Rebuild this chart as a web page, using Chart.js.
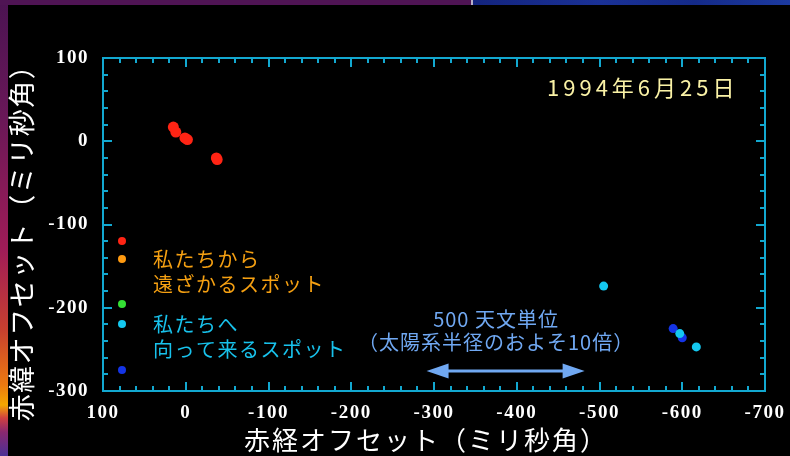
<!DOCTYPE html>
<html>
<head>
<meta charset="utf-8">
<script src="https://cdn.jsdelivr.net/npm/chart.js@4.4.1/dist/chart.umd.min.js"></script>
<style>
  html, body { margin: 0; padding: 0; background: #000; }
  #wrap { position: relative; width: 790px; height: 456px; overflow: hidden; background: #000; }
  #edgeLeft {
    position: absolute; left: 0; top: 0; width: 8px; height: 456px;
    background: linear-gradient(to bottom, #4b1352 0px, #6a1858 120px, #a01c58 250px, #c8402f 330px,
      #ec7a10 385px, #f5a800 405px, #d04040 418px, #8a2870 432px, #4a3095 456px);
  }
  #edgeTop { position: absolute; left: 0; top: 0; width: 471px; height: 5px; background: #4f1454; }
  #edgeSep { position: absolute; left: 471px; top: 0; width: 2px; height: 5px; background: #b8b0c8; }
  #edgeTopRight {
    position: absolute; left: 473px; top: 0; width: 317px; height: 5px;
    background: linear-gradient(to right, #13247e, #1a3196 40%, #142a88 70%, #1c3aa0);
  }
  canvas { position: absolute; left: 0; top: 0; }
</style>
</head>
<body>
<div id="wrap">
  <div id="edgeLeft"></div>
  <div id="edgeTop"></div>
  <div id="edgeSep"></div>
  <div id="edgeTopRight"></div>
  <canvas id="c" width="790" height="456"></canvas>
</div>
<script>
// Maser spot offsets (milli-arcseconds): right ascension (x) and declination (y)
const redX  = [15, 12, 1, -2, -37, -38];
const redY  = [17, 11, 4, 2, -20, -22];
const cyanX = [-505, -597, -617];
const cyanY = [-174, -231, -247];
const blueX = [-589, -600];
const blueY = [-225, -236];

// Axis ranges and tick steps
const xRange = [-700, 100];
const yRange = [-300, 100];
const minorStep = 20;
const majorStep = 100;

// Text
const xTitle = '赤経オフセット（ミリ秒角）';
const yTitle = '赤緯オフセット（ミリ秒角）';
const dateLabel = '1994年6月25日';
const recedingLines = ['私たちから', '遠ざかるスポット'];
const approachingLines = ['私たちへ', '向って来るスポット'];
const scaleBarLines = ['500 天文単位', '（太陽系半径のおよそ10倍）'];

// Velocity colour key, from receding (red) to approaching (blue)
const keyColors = ['#ff2414', '#ff9a10', '#34e034', '#14c8f0', '#1434e6'];

// Scale bar for 500 AU, in offset units
const scaleBarFrom = -291;
const scaleBarTo = -482;
const scaleBarY = -276;
const scaleBarTextX = -375;

const FRAME = '#12a8d0';
const CJK = '"Noto Sans CJK JP", "Noto Sans", sans-serif';

function toPoints(xs, ys) { return xs.map((v, i) => ({ x: v, y: ys[i] })); }

const decorPlugin = {
  id: 'decor',
  beforeDraw(chart) {
    // slightly spaced tick numerals
    chart.ctx.letterSpacing = '1.5px';
  },
  afterDraw(chart) {
    const { ctx, chartArea: a, scales: { x, y } } = chart;
    ctx.save();

    // frame
    ctx.strokeStyle = FRAME;
    ctx.lineWidth = 2;
    ctx.strokeRect(a.left, a.top, a.right - a.left, a.bottom - a.top);

    // inward tick marks on all four sides
    const seg = (x1, y1, x2, y2) => { ctx.beginPath(); ctx.moveTo(x1, y1); ctx.lineTo(x2, y2); ctx.stroke(); };
    x.ticks.forEach(t => {
      const px = Math.round(x.getPixelForValue(t.value));
      const len = Math.round(t.value) % majorStep === 0 ? 9 : 5;
      seg(px, a.bottom, px, a.bottom - len);
      seg(px, a.top, px, a.top + len);
    });
    y.ticks.forEach(t => {
      const py = Math.round(y.getPixelForValue(t.value));
      const len = Math.round(t.value) % majorStep === 0 ? 9 : 5;
      seg(a.left, py, a.left + len, py);
      seg(a.right, py, a.right - len, py);
    });

    // axis titles
    ctx.fillStyle = '#ffffff';
    ctx.textAlign = 'center';
    ctx.textBaseline = 'middle';
    ctx.font = '26px ' + CJK;
    ctx.letterSpacing = '2px';
    ctx.fillText(xTitle, 426, 440);
    ctx.save();
    ctx.translate(22, 236);
    ctx.rotate(-Math.PI / 2);
    ctx.font = '27px ' + CJK;
    ctx.letterSpacing = '1.5px';
    ctx.fillText(yTitle, 0, 0);
    ctx.restore();

    // date
    ctx.fillStyle = '#faf2a6';
    ctx.font = '22px ' + CJK;
    ctx.letterSpacing = '4px';
    ctx.textAlign = 'left';
    ctx.fillText(dateLabel, 547, 88);

    // colour key dots
    const keyX = a.left + 19;
    const keyY = [241, 259, 304, 324, 370];
    keyColors.forEach((c, i) => {
      ctx.fillStyle = c;
      ctx.beginPath();
      ctx.arc(keyX, keyY[i], 4, 0, Math.PI * 2);
      ctx.fill();
    });

    // key captions
    ctx.font = '20px ' + CJK;
    ctx.letterSpacing = '1.5px';
    ctx.fillStyle = '#f5a012';
    ctx.fillText(recedingLines[0], 153, 259);
    ctx.fillText(recedingLines[1], 153, 284);
    ctx.fillStyle = '#18c2ec';
    ctx.fillText(approachingLines[0], 153, 324);
    ctx.fillText(approachingLines[1], 153, 349);

    // 500 AU scale bar
    const blue = '#70a8f2';
    ctx.fillStyle = blue;
    ctx.strokeStyle = blue;
    ctx.textAlign = 'center';
    ctx.letterSpacing = '1px';
    const tx = x.getPixelForValue(scaleBarTextX);
    ctx.fillText(scaleBarLines[0], tx, 319);
    ctx.fillText(scaleBarLines[1], tx, 342);

    const x1 = x.getPixelForValue(scaleBarFrom);
    const x2 = x.getPixelForValue(scaleBarTo);
    const yy = y.getPixelForValue(scaleBarY);
    const head = 22, half = 7.5;
    ctx.lineWidth = 3;
    seg(x1 + head - 2, yy, x2 - head + 2, yy);
    ctx.beginPath();
    ctx.moveTo(x1, yy); ctx.lineTo(x1 + head, yy - half); ctx.lineTo(x1 + head, yy + half); ctx.closePath();
    ctx.fill();
    ctx.beginPath();
    ctx.moveTo(x2, yy); ctx.lineTo(x2 - head, yy - half); ctx.lineTo(x2 - head, yy + half); ctx.closePath();
    ctx.fill();

    ctx.restore();
  }
};

const tickFont = { family: '"Liberation Serif", "Times New Roman", serif', weight: 'bold', size: 19 };
const tickLabel = v => (Math.round(v) % majorStep === 0 ? String(Math.round(v)) : '');

new Chart(document.getElementById('c'), {
  type: 'scatter',
  data: {
    datasets: [
      { data: toPoints(redX, redY), backgroundColor: keyColors[0], borderWidth: 0, pointRadius: 5.5 },
      { data: toPoints(cyanX, cyanY), backgroundColor: keyColors[3], borderWidth: 0, pointRadius: 4.5 },
      { data: toPoints(blueX, blueY), backgroundColor: keyColors[4], borderWidth: 0, pointRadius: 4.5 }
    ]
  },
  options: {
    responsive: false,
    animation: false,
    devicePixelRatio: 1,
    layout: { padding: { top: 58, right: 25, left: 0, bottom: 0 } },
    plugins: { legend: { display: false }, tooltip: { enabled: false } },
    scales: {
      x: {
        type: 'linear', position: 'bottom', reverse: true,
        min: xRange[0], max: xRange[1],
        grid: { display: false }, border: { display: false },
        ticks: { stepSize: minorStep, autoSkip: false, maxRotation: 0, color: '#ffffff',
                 font: tickFont, padding: 3, callback: tickLabel },
        afterFit(s) { s.height = 65; }
      },
      y: {
        type: 'linear', position: 'left',
        min: yRange[0], max: yRange[1],
        grid: { display: false }, border: { display: false },
        ticks: { stepSize: minorStep, autoSkip: false, color: '#ffffff',
                 font: tickFont, padding: 6, callback: tickLabel },
        afterFit(s) { s.width = 103; }
      }
    }
  },
  plugins: [decorPlugin]
});
</script>
</body>
</html>
